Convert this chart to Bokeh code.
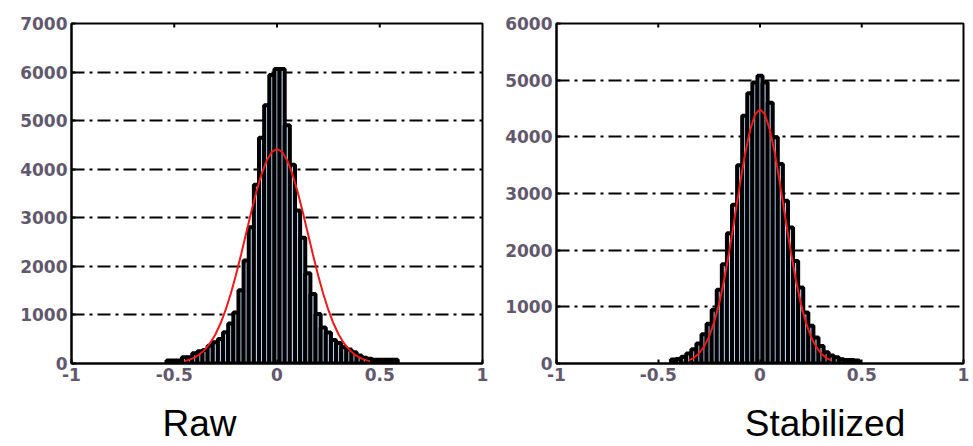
from bokeh.plotting import figure
from bokeh.layouts import row, column
from bokeh.models import FixedTicker, LinearAxis, Range1d
from bokeh.core.properties import value
from bokeh.embed import file_html
from bokeh.resources import INLINE

BIN_WIDTH = 0.025

raw_x = [-0.525, -0.5, -0.475, -0.45, -0.425, -0.4, -0.375, -0.35, -0.325, -0.3,
         -0.275, -0.25, -0.225, -0.2, -0.175, -0.15, -0.125, -0.1, -0.075, -0.05,
         -0.025, 0.0, 0.025, 0.05, 0.075, 0.1, 0.125, 0.15, 0.175, 0.2,
         0.225, 0.25, 0.275, 0.3, 0.325, 0.35, 0.375, 0.4, 0.425, 0.45,
         0.475, 0.5, 0.525, 0.55, 0.575]
raw_counts = [61, 61, 61, 130, 130, 211, 250, 280, 368, 440,
              505, 641, 825, 1050, 1508, 2122, 2804, 3678, 4646, 5315,
              5942, 6064, 6064, 4906, 4090, 3150, 2590, 1860, 1430, 1020,
              740, 640, 485, 420, 334, 290, 232, 164, 120, 96,
              75, 75, 75, 75, 75]

stab_x = [-0.425, -0.4, -0.375, -0.35, -0.325, -0.3, -0.275, -0.25, -0.225, -0.2,
          -0.175, -0.15, -0.125, -0.1, -0.075, -0.05, -0.025, 0.0, 0.025, 0.05,
          0.075, 0.1, 0.125, 0.15, 0.175, 0.2, 0.225, 0.25, 0.275, 0.3,
          0.325, 0.35, 0.375, 0.4, 0.425, 0.45, 0.475]
stab_counts = [70, 80, 118, 176, 253, 353, 518, 700, 950, 1300,
               1750, 2300, 2800, 3500, 4374, 4767, 4961, 5079, 4961, 4603,
               3991, 3520, 2870, 2400, 1810, 1340, 900, 665, 460, 310,
               200, 140, 110, 75, 62, 60, 55]

raw_fit_x = [-0.45, -0.425, -0.4, -0.375, -0.35, -0.325, -0.3, -0.275, -0.25, -0.225,
             -0.2, -0.175, -0.15, -0.125, -0.1, -0.075, -0.05, -0.025, 0.0, 0.025,
             0.05, 0.075, 0.1, 0.125, 0.15, 0.175, 0.2, 0.225, 0.25, 0.275,
             0.3, 0.325, 0.35, 0.375, 0.4, 0.425, 0.45]
raw_fit_y = [49, 80, 126, 194, 291, 423, 598, 823, 1102, 1435,
             1817, 2238, 2681, 3123, 3539, 3901, 4181, 4359, 4420, 4359,
             4181, 3901, 3539, 3123, 2681, 2238, 1817, 1435, 1102, 823,
             598, 423, 291, 194, 126, 80, 49]

stab_fit_x = [-0.35, -0.325, -0.3, -0.275, -0.25, -0.225, -0.2, -0.175, -0.15, -0.125,
              -0.1, -0.075, -0.05, -0.025, 0.0, 0.025, 0.05, 0.075, 0.1, 0.125,
              0.15, 0.175, 0.2, 0.225, 0.25, 0.275, 0.3, 0.325, 0.35]
stab_fit_y = [55, 101, 177, 297, 476, 729, 1068, 1495, 2002, 2562,
              3135, 3669, 4104, 4390, 4490, 4390, 4104, 3669, 3135, 2562,
              2002, 1495, 1068, 729, 476, 297, 177, 101, 55]

x_ticks = [-1, -0.5, 0, 0.5, 1]
x_tick_labels = {-1: "-1", -0.5: "-0.5", 0: "0", 0.5: "0.5", 1: "1"}
raw_y_ticks = [0, 1000, 2000, 3000, 4000, 5000, 6000, 7000]
stab_y_ticks = [0, 1000, 2000, 3000, 4000, 5000, 6000]
titles = ["Raw", "Stabilized"]

LABEL_FONT = "DejaVu Sans"
LABEL_COLOR = "#62586e"
BAR_FILL = "#b8d2f0"


def make_panel(xs, counts, fx, fy, ymax, yticks, width, height, bl, br, bt, bb):
    p = figure(width=width, height=height, output_backend="svg", title=None,
               toolbar_location=None, x_range=Range1d(-1, 1),
               y_range=Range1d(0, ymax), min_border_left=bl,
               min_border_right=br, min_border_top=bt, min_border_bottom=bb,
               x_axis_location=None, y_axis_location=None)
    p.background_fill_color = "white"
    p.border_fill_color = "white"
    p.outline_line_color = "black"
    p.outline_line_width = 2

    xax = LinearAxis(ticker=FixedTicker(ticks=x_ticks))
    xax.major_label_overrides = x_tick_labels
    yax = LinearAxis(ticker=FixedTicker(ticks=yticks))
    for ax in (xax, yax):
        ax.axis_line_color = "black"
        ax.axis_line_width = 2
        ax.major_tick_in = 4
        ax.major_tick_out = 0
        ax.major_tick_line_width = 2
        ax.minor_tick_line_color = None
        ax.major_label_text_font = LABEL_FONT
        ax.major_label_text_font_style = "bold"
        ax.major_label_text_font_size = "17px"
        ax.major_label_text_color = LABEL_COLOR
        ax.major_label_standoff = 4
    p.add_layout(xax, "below")
    p.add_layout(yax, "left")

    p.xgrid.visible = False
    p.ygrid.ticker = FixedTicker(ticks=[t for t in yticks if 0 < t < ymax])
    p.ygrid.grid_line_color = "black"
    p.ygrid.grid_line_width = 2
    p.ygrid.grid_line_dash = "13 5 3 5"

    p.vbar(x=xs, width=BIN_WIDTH, top=counts, bottom=0, fill_color=BAR_FILL,
           line_color="black", line_width=4)
    p.line(fx, fy, line_color="#f01818", line_width=2)

    # inward tick marks along the top edge of the box
    p.segment(x0=x_ticks[1:-1], x1=x_ticks[1:-1],
              y0=[ymax] * 3, y1=[ymax * 0.988] * 3,
              line_color="black", line_width=2)
    return p


def make_title(text, width, height, cx, base):
    t = figure(width=width, height=height, output_backend="svg", title=None,
               toolbar_location=None, x_range=Range1d(0, width),
               y_range=Range1d(0, height), min_border=0,
               x_axis_location=None, y_axis_location=None)
    t.outline_line_color = None
    t.xgrid.visible = False
    t.ygrid.visible = False
    t.text(x=[cx], y=[base], text=[text], text_align="center",
           text_baseline="middle", text_font=value("Liberation Sans"),
           text_font_size="37px", text_color="black")
    return t


p1 = make_panel(raw_x, raw_counts, raw_fit_x, raw_fit_y, 7000,
                raw_y_ticks, 490, 403, 71, 8, 21, 40)
p2 = make_panel(stab_x, stab_counts, stab_fit_x, stab_fit_y,
                6000, stab_y_ticks, 483, 403, 66, 10, 23, 40)
t1 = make_title(titles[0], 490, 43, 199, 23)
t2 = make_title(titles[1], 483, 43, 334.5, 23)

layout = column(row(p1, p2, spacing=0), row(t1, t2, spacing=0), spacing=0)
open("out.html", "w").write(file_html(layout, INLINE))
